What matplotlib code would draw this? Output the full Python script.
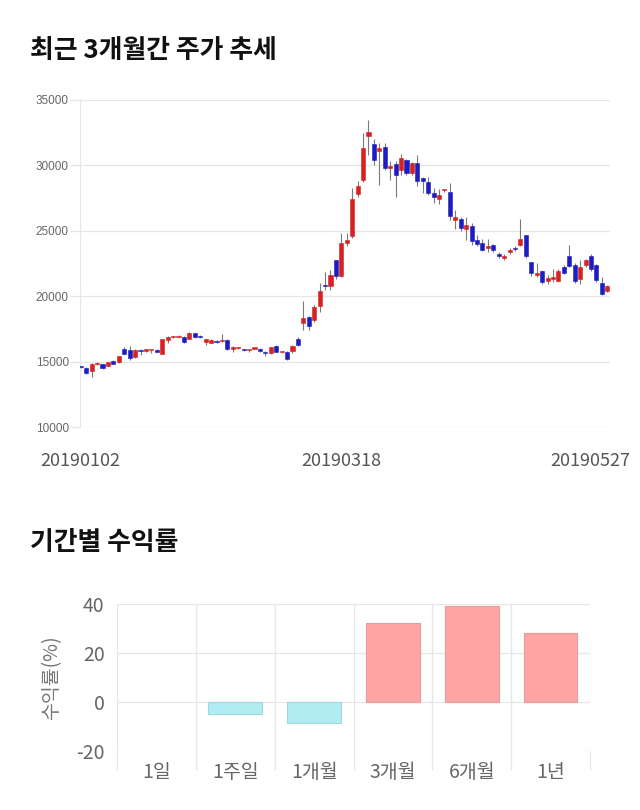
import matplotlib
matplotlib.use('Agg')
import matplotlib.pyplot as plt
import matplotlib.transforms as mtransforms
import numpy as np

plt.rcParams['font.family'] = ['Noto Sans CJK KR', 'DejaVu Sans']
plt.rcParams['axes.unicode_minus'] = False

# daily candles (open, high, low, close), 2019-01-02 .. 2019-05-27
opens = [14650, 14500, 14300, 14800, 14800, 14700, 15050, 14950, 15950, 15900,
         15350, 15900, 15800, 15850, 15900, 15600, 16650, 16900, 16900, 16900,
         16750, 17150, 16950, 16500, 16450, 16600, 16550, 16650, 15950, 16050,
         15950, 15850, 16000, 16000, 15750, 15650, 16200, 15700, 15750, 15800,
         16700, 17950, 18400, 18200, 19250, 20850, 20750, 22750, 21550, 24050,
         24600, 27850, 28850, 32250, 31600, 31100, 31400, 29800, 30100, 29650,
         30450, 29400, 30200, 29000, 28750, 27900, 27400, 28100, 28000, 25850,
         25900, 25100, 25350, 24300, 24100, 23650, 23950, 23250, 22900, 23350,
         23700, 23950, 24650, 22600, 21650, 21900, 21150, 21300, 21150, 22250,
         23100, 22400, 21300, 22350, 23100, 22350, 21000, 20400]
highs = [14700, 14600, 14900, 14950, 14850, 15000, 15100, 15450, 16150, 16200,
         15950, 16000, 16000, 15900, 15950, 16750, 16950, 16950, 17000, 16950,
         17250, 17200, 17000, 16750, 16700, 16650, 17100, 16700, 16200, 16100,
         16000, 15900, 16050, 16050, 15800, 16150, 16250, 15750, 15800, 16250,
         16900, 19600, 18500, 19300, 21000, 21850, 22000, 22800, 24800, 24800,
         28250, 28800, 32450, 33450, 32000, 31750, 31750, 30350, 30350, 30900,
         30500, 30250, 30800, 29100, 29150, 28250, 28200, 28200, 28650, 26600,
         26050, 26050, 25600, 24700, 24350, 24400, 24000, 23350, 23200, 23650,
         23800, 25900, 24700, 22650, 22550, 22000, 21650, 22050, 22050, 22350,
         23950, 22500, 22750, 22850, 23200, 22450, 21500, 20850]
lows = [14500, 14050, 13850, 14750, 14450, 14650, 14800, 14900, 15550, 15100,
        15300, 15500, 15750, 15650, 15700, 15550, 16400, 16800, 16850, 16450,
        16700, 16800, 16800, 16300, 16400, 16450, 16500, 15900, 15700, 16000,
        15800, 15700, 15950, 15750, 15450, 15600, 15700, 15650, 15100, 15650,
        16200, 17400, 17400, 18000, 18800, 20450, 20450, 21300, 21500, 23800,
        24450, 27550, 28700, 30800, 30000, 28500, 29650, 28900, 27600, 29300,
        29250, 29250, 28400, 27900, 27750, 27100, 27050, 28000, 25850, 25150,
        24950, 24300, 23900, 23800, 23450, 23400, 23350, 22900, 22750, 23200,
        23450, 23800, 22950, 21550, 21500, 20950, 20950, 21100, 21050, 21700,
        22200, 21000, 20950, 22200, 21950, 21100, 20100, 20300]
closes = [14600, 14150, 14800, 14850, 14500, 14950, 14850, 15400, 15600, 15250,
          15900, 15800, 15950, 15850, 15750, 16700, 16850, 16900, 16950, 16500,
          17200, 16850, 16850, 16700, 16650, 16500, 16650, 15950, 16150, 16050,
          15850, 15850, 16000, 15800, 15650, 16100, 15750, 15700, 15200, 16200,
          16300, 18300, 17700, 19200, 20400, 20750, 21600, 21550, 24050, 24300,
          27450, 28450, 31300, 32550, 30400, 31350, 29800, 29950, 29250, 30600,
          29400, 30150, 28800, 28800, 27900, 27600, 27700, 28150, 26100, 26050,
          25200, 25450, 24200, 24000, 23550, 23800, 23500, 23050, 23100, 23500,
          23600, 24400, 23100, 21750, 21750, 21050, 21400, 21450, 21950, 21800,
          22300, 21150, 22250, 22750, 22100, 21250, 20200, 20750]
date_labels = ['20190102', '20190318', '20190527']
date_idx = [0, 48, 97]

# period returns
periods = ['1일', '1주일', '1개월', '3개월', '6개월', '1년']
returns = [0.0, -4.9, -8.7, 32.4, 39.2, 28.2]

RED = '#d62222'
BLUE = '#1c1cc0'
GRID = '#e6e6e6'

fig = plt.figure(figsize=(6.4, 8.1), dpi=100)

fig.text(30/640, 1-50/810, '최근 3개월간 주가 추세', fontsize=18.6, fontweight='bold',
         color='#111111', va='center', ha='left')
fig.text(30/640, 1-543/810, '기간별 수익률', fontsize=18.6, fontweight='bold',
         color='#111111', va='center', ha='left')

# ---- candlestick chart
ax = fig.add_axes([80/640, 1-427/810, 530/640, 327/810])
o = np.array(opens); h = np.array(highs); l = np.array(lows); c = np.array(closes)
x = np.arange(len(o))
up = c >= o
colors = np.where(up, RED, BLUE)
ax.vlines(x, l, h, color='#7a7a7a', linewidth=0.8, zorder=2)
bottom = np.minimum(o, c)
height = np.maximum(np.abs(c - o), 90)
ax.bar(x, height, bottom=bottom, width=0.75, color=colors, edgecolor=colors,
       linewidth=0.4, zorder=3)

ax.set_xlim(-0.15, 97.5)
ax.set_ylim(10000, 35000)
ax.set_yticks(range(10000, 35001, 5000))
ax.yaxis.grid(True, color=GRID, linewidth=0.9)
ax.set_axisbelow(True)
for s in ['top', 'right', 'bottom']:
    ax.spines[s].set_visible(False)
ax.spines['left'].set_color(GRID)
ax.tick_params(axis='y', length=7, width=0.9, color=GRID, pad=1,
               labelsize=8.5, labelcolor='#666666')
for t in ax.get_yticklabels():
    t.set_fontfamily(['Liberation Sans', 'DejaVu Sans'])
ax.set_xticks(date_idx)
ax.set_xticklabels(date_labels)
ax.tick_params(axis='x', length=0, pad=18, labelsize=13, labelcolor='#555555')
last = ax.get_xticklabels()[-1]
last.set_transform(last.get_transform() + mtransforms.ScaledTranslation(-17/100, 0, fig.dpi_scale_trans))

# ---- returns bar chart
ax2 = fig.add_axes([117/640, 1-751/810, 473/640, 147/810])
pos = np.arange(len(periods))
bcol = ['#ffa5a5' if v >= 0 else '#b2ebf2' for v in returns]
ecol = ['#eb9a9a' if v >= 0 else '#9cd9e2' for v in returns]
lw = [0.8 if v != 0 else 0 for v in returns]
ax2.bar(pos, returns, width=0.68, color=bcol, edgecolor=ecol, linewidth=lw, zorder=3)
ax2.set_xlim(-0.5, len(periods) - 0.5)
ax2.set_ylim(-20, 40)
ax2.set_yticks([-20, 0, 20, 40])
ax2.set_xticks(pos)
ax2.set_xticklabels(periods)
ax2.set_xticks(np.arange(-0.5, len(periods)), minor=True)
ax2.yaxis.grid(True, color=GRID, linewidth=0.9)
ax2.xaxis.grid(True, which='minor', color=GRID, linewidth=0.9)
ax2.set_axisbelow(True)
for s in ax2.spines.values():
    s.set_visible(False)
ax2.tick_params(axis='y', length=0, pad=9, labelsize=14, labelcolor='#666666')
ax2.tick_params(axis='x', which='major', length=0, pad=8, labelsize=14, labelcolor='#666666')
ax2.tick_params(axis='x', which='minor', length=14, width=0.9, color=GRID)
ax2.set_ylabel('수익률(%)', fontsize=14, color='#777777', labelpad=10)

fig.savefig('out.png', dpi=100, facecolor='white')
